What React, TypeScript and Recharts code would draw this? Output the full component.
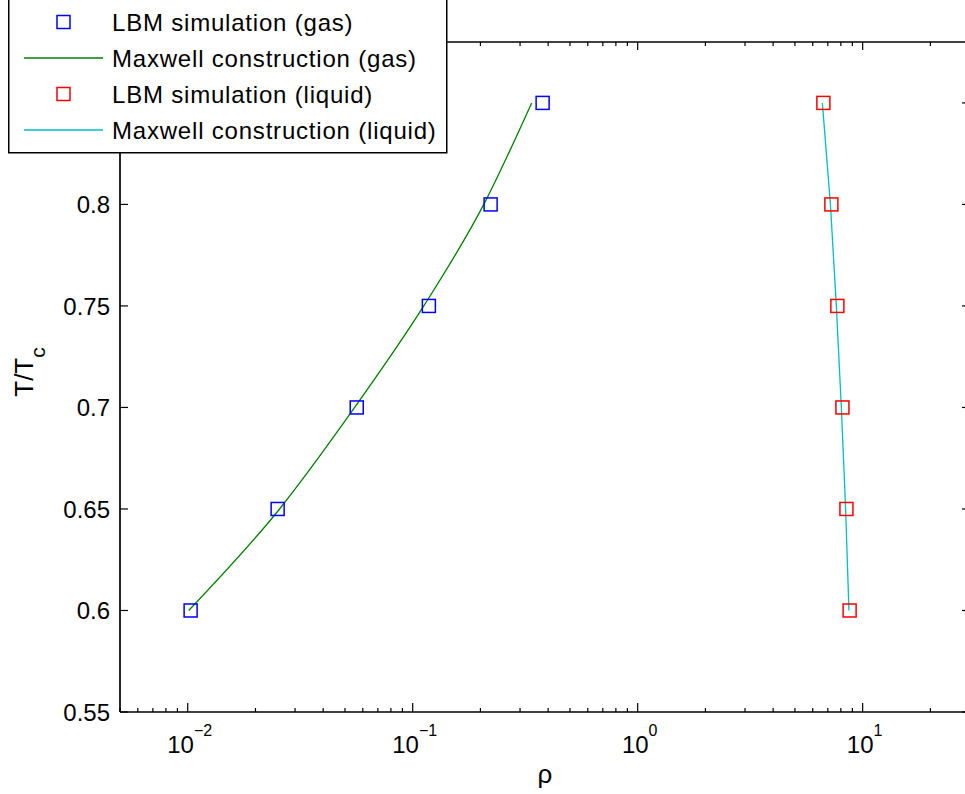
import React from 'react';
import { ComposedChart, Scatter, Line, XAxis, YAxis, Legend } from 'recharts';

// Reduced temperature levels shared by all series
const temps = [0.6, 0.65, 0.7, 0.75, 0.8, 0.85];

// Coexistence densities (gas branch / liquid branch)
const gasSim = [0.0103, 0.0251, 0.0564, 0.118, 0.222, 0.378];
const gasMaxwell = [0.0101, 0.0256, 0.0552, 0.112, 0.207, 0.338];
const liquidSim = [8.75, 8.47, 8.13, 7.72, 7.26, 6.69];
const liquidMaxwell = [8.69, 8.4, 8.04, 7.64, 7.19, 6.62];

const seriesNames = [
  'LBM simulation (gas)',
  'Maxwell construction (gas)',
  'LBM simulation (liquid)',
  'Maxwell construction (liquid)',
];

const rhoTicks = [
  0.005, 0.006, 0.007, 0.008, 0.009,
  0.01, 0.02, 0.03, 0.04, 0.05, 0.06, 0.07, 0.08, 0.09,
  0.1, 0.2, 0.3, 0.4, 0.5, 0.6, 0.7, 0.8, 0.9,
  1, 2, 3, 4, 5, 6, 7, 8, 9,
  10, 20,
];
const tTicks = [0.55, 0.6, 0.65, 0.7, 0.75, 0.8, 0.85];

const BLUE = '#0000ff';
const GREEN = '#008000';
const RED = '#ff0000';
const CYAN = '#00bfbf';
const FONT = '"Liberation Sans", Arial, Helvetica, sans-serif';

const toRows = (rho: number[]) => rho.map((r, i) => ({ rho: r, t: temps[i] }));

const axisLine = { stroke: '#000', strokeWidth: 1.7 };

function decade(v: number) {
  const e = Math.round(Math.log10(v));
  return { e, major: Math.abs(Math.log10(v) - e) < 1e-9 };
}

function RhoTick({ x, y, payload }: any) {
  const { e, major } = decade(payload.value);
  const exp = e < 0 ? `\u2212${-e}` : `${e}`;
  return (
    <g>
      <line x1={x} x2={x} y1={y} y2={y - (major ? 9 : 4)} stroke="#000" strokeWidth={1.2} />
      {major && (
        <text x={x + 2} y={y + 41} textAnchor="middle" fontSize={24} fill="#000">
          <tspan>10</tspan>
          <tspan dy={-17} fontSize={16}>{exp}</tspan>
        </text>
      )}
    </g>
  );
}

function TopTick({ x, y, payload }: any) {
  const { major } = decade(payload.value);
  return <line x1={x} x2={x} y1={y} y2={y + (major ? 8 : 4)} stroke="#000" strokeWidth={1.2} />;
}

function TTick({ x, y, payload }: any) {
  return (
    <g>
      <line x1={x} x2={x + 8} y1={y} y2={y} stroke="#000" strokeWidth={1.2} />
      <text x={x - 10} y={y + 9} textAnchor="end" fontSize={24} fill="#000">
        {payload.value}
      </text>
    </g>
  );
}

function RightTick({ x, y }: any) {
  return <line x1={x} x2={x - 8} y1={y} y2={y} stroke="#000" strokeWidth={1.2} />;
}

const rhoLabel = (p: any) => {
  const vb = p.viewBox;
  return (
    <text x={vb.x + vb.width / 2} y={783} textAnchor="middle" fontSize={26} fill="#000">
      ρ
    </text>
  );
};

const tLabel = (p: any) => {
  const vb = p.viewBox;
  const cx = 33;
  const cy = vb.y + vb.height / 2 - 5;
  return (
    <text x={cx} y={cy} transform={`rotate(-90 ${cx} ${cy})`} textAnchor="middle" fontSize={26} fill="#000">
      T/T
      <tspan dy={12} fontSize={21}>c</tspan>
    </text>
  );
};

const square = (color: string) => (props: any) => (
  <rect
    x={props.cx - 6.5}
    y={props.cy - 6.5}
    width={13}
    height={13}
    fill="none"
    stroke={color}
    strokeWidth={1.5}
  />
);

function LegendBox({ payload }: any) {
  const items = [...(payload ?? [])].sort(
    (a: any, b: any) => seriesNames.indexOf(a.value) - seriesNames.indexOf(b.value),
  );
  return (
    <svg width={440} height={168} style={{ display: 'block', fontFamily: FONT }}>
      <rect x={0.75} y={0.75} width={438} height={165} fill="#fff" stroke="#000" strokeWidth={1.5} />
      {items.map((it: any, i: number) => {
        const cy = 35 + i * 36;
        return (
          <g key={it.value}>
            {it.type === 'line' ? (
              <line x1={16} x2={95} y1={cy} y2={cy} stroke={it.color} strokeWidth={1.3} />
            ) : (
              <rect x={49} y={cy - 6.5} width={13} height={13} fill="none" stroke={it.color} strokeWidth={1.5} />
            )}
            <text x={104} y={cy + 9} fontSize={24} letterSpacing={0.8} fill="#000">
              {it.value}
            </text>
          </g>
        );
      })}
    </svg>
  );
}

export default function App() {
  return (
    <div style={{ position: 'relative', width: 965, height: 794, overflow: 'hidden', fontFamily: FONT, background: '#fff' }}>
      <style>{'body{margin:0}'}</style>
      {/* axes are 1px thick boxes so the plot box sits at x 120..970, y 42..712 */}
      <ComposedChart width={985} height={794} margin={{ top: 41, right: 14, bottom: 81, left: 119 }}>
        <XAxis
          xAxisId="b"
          type="number"
          dataKey="rho"
          scale="log"
          domain={[0.005, 30]}
          allowDataOverflow
          ticks={rhoTicks}
          interval={0}
          tick={<RhoTick />}
          tickLine={false}
          tickSize={0}
          tickMargin={0}
          height={1}
          axisLine={axisLine}
          label={rhoLabel}
        />
        <XAxis
          xAxisId="t"
          orientation="top"
          type="number"
          dataKey="rho"
          scale="log"
          domain={[0.005, 30]}
          allowDataOverflow
          ticks={rhoTicks}
          interval={0}
          tick={<TopTick />}
          tickLine={false}
          tickSize={0}
          tickMargin={0}
          height={1}
          axisLine={axisLine}
        />
        <YAxis
          yAxisId="l"
          type="number"
          dataKey="t"
          domain={[0.55, 0.88]}
          allowDataOverflow
          ticks={tTicks}
          interval={0}
          tick={<TTick />}
          tickLine={false}
          tickSize={0}
          tickMargin={0}
          width={1}
          axisLine={axisLine}
          label={tLabel}
        />
        <YAxis
          yAxisId="r"
          orientation="right"
          type="number"
          dataKey="t"
          domain={[0.55, 0.88]}
          allowDataOverflow
          ticks={tTicks}
          interval={0}
          tick={<RightTick />}
          tickLine={false}
          tickSize={0}
          tickMargin={0}
          width={1}
          axisLine={axisLine}
        />
        <Legend
          layout="horizontal"
          verticalAlign="middle"
          align="center"
          content={<LegendBox />}
          wrapperStyle={{ left: 8.25, top: -13, width: 440, height: 168 }}
        />
        <Scatter
          xAxisId="b"
          yAxisId="l"
          name={seriesNames[0]}
          data={toRows(gasSim)}
          fill={BLUE}
          shape={square(BLUE)}
          legendType="square"
          isAnimationActive={false}
        />
        <Line
          xAxisId="b"
          yAxisId="l"
          name={seriesNames[1]}
          data={toRows(gasMaxwell)}
          dataKey="t"
          type="monotone"
          stroke={GREEN}
          strokeWidth={1.3}
          dot={false}
          activeDot={false}
          legendType="line"
          isAnimationActive={false}
        />
        <Scatter
          xAxisId="b"
          yAxisId="l"
          name={seriesNames[2]}
          data={toRows(liquidSim)}
          fill={RED}
          shape={square(RED)}
          legendType="square"
          isAnimationActive={false}
        />
        <Line
          xAxisId="b"
          yAxisId="l"
          name={seriesNames[3]}
          data={toRows(liquidMaxwell)}
          dataKey="t"
          type="linear"
          stroke={CYAN}
          strokeWidth={1.3}
          dot={false}
          activeDot={false}
          legendType="line"
          isAnimationActive={false}
        />
      </ComposedChart>
    </div>
  );
}
